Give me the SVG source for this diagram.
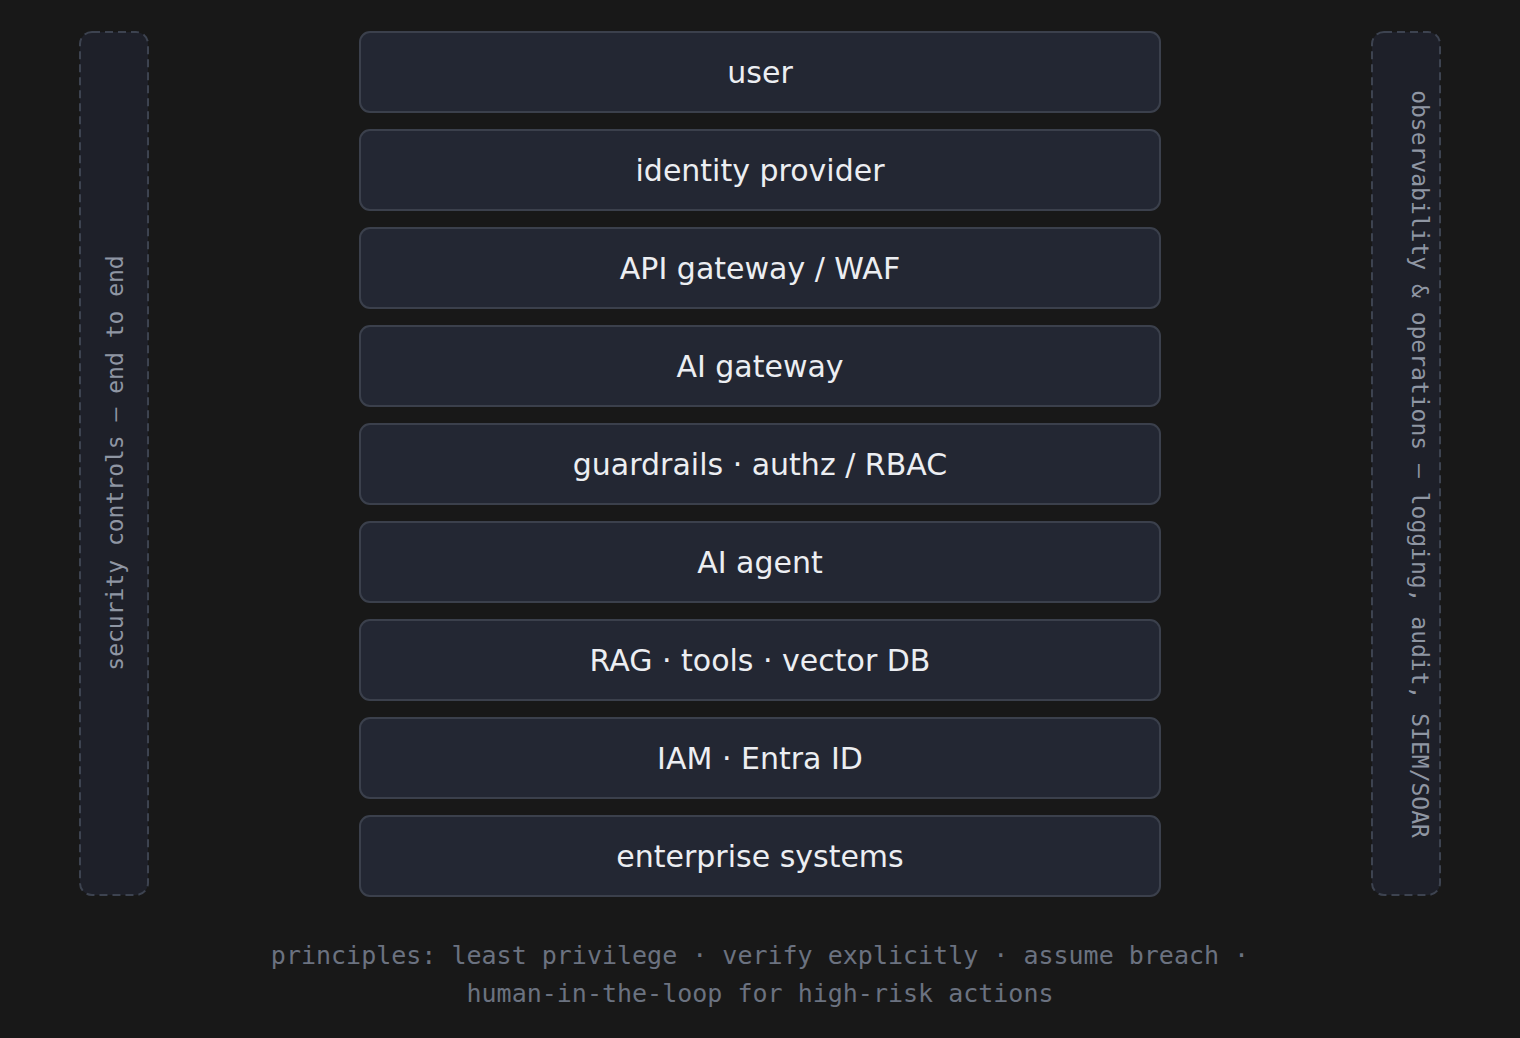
<svg xmlns="http://www.w3.org/2000/svg" width="1520" height="1038" viewBox="0 0 1520 1038">
<style>
.bg{fill:#181818}
.side{fill:#1e2029;stroke:#3d4350;stroke-width:2;stroke-dasharray:8 5}
.node rect{fill:#232733;stroke:#3b404c;stroke-width:2}
.node text{font-family:"DejaVu Sans",sans-serif;font-size:30px;fill:#eceef2;text-anchor:middle;dominant-baseline:central}
.sidetxt{font-family:"DejaVu Sans Mono",monospace;font-size:23px;fill:#8f96a3;text-anchor:middle;dominant-baseline:central}
.foot{font-family:"DejaVu Sans Mono",monospace;font-size:25px;fill:#6b7280;text-anchor:middle;dominant-baseline:central}
</style>
<rect class="bg" x="0" y="0" width="1520" height="1038"/>
<g id="security-controls">
<rect class="side" x="80" y="32" width="68" height="863" rx="12"/>
<text class="sidetxt" transform="translate(115,463) rotate(-90)">security controls — end to end</text>
</g>
<g id="observability">
<rect class="side" x="1372" y="32" width="68" height="863" rx="12"/>
<text class="sidetxt" transform="translate(1420,464) rotate(90)">observability &amp; operations — logging, audit, SIEM/SOAR</text>
</g>
<g id="connectors"></g>
<g id="user" class="node"><rect x="360" y="32" width="800" height="80" rx="10"/><text x="760" y="72">user</text></g>
<g id="identity-provider" class="node"><rect x="360" y="130" width="800" height="80" rx="10"/><text x="760" y="170">identity provider</text></g>
<g id="api-gateway" class="node"><rect x="360" y="228" width="800" height="80" rx="10"/><text x="760" y="268">API gateway / WAF</text></g>
<g id="ai-gateway" class="node"><rect x="360" y="326" width="800" height="80" rx="10"/><text x="760" y="366">AI gateway</text></g>
<g id="guardrails" class="node"><rect x="360" y="424" width="800" height="80" rx="10"/><text x="760" y="464">guardrails · authz / RBAC</text></g>
<g id="ai-agent" class="node"><rect x="360" y="522" width="800" height="80" rx="10"/><text x="760" y="562">AI agent</text></g>
<g id="rag" class="node"><rect x="360" y="620" width="800" height="80" rx="10"/><text x="760" y="660">RAG · tools · vector DB</text></g>
<g id="iam" class="node"><rect x="360" y="718" width="800" height="80" rx="10"/><text x="760" y="758">IAM · Entra ID</text></g>
<g id="enterprise" class="node"><rect x="360" y="816" width="800" height="80" rx="10"/><text x="760" y="856">enterprise systems</text></g>
<g id="principles">
<text class="foot" x="760" y="955">principles: least privilege · verify explicitly · assume breach ·</text>
<text class="foot" x="760" y="993">human-in-the-loop for high-risk actions</text>
</g>
</svg>
